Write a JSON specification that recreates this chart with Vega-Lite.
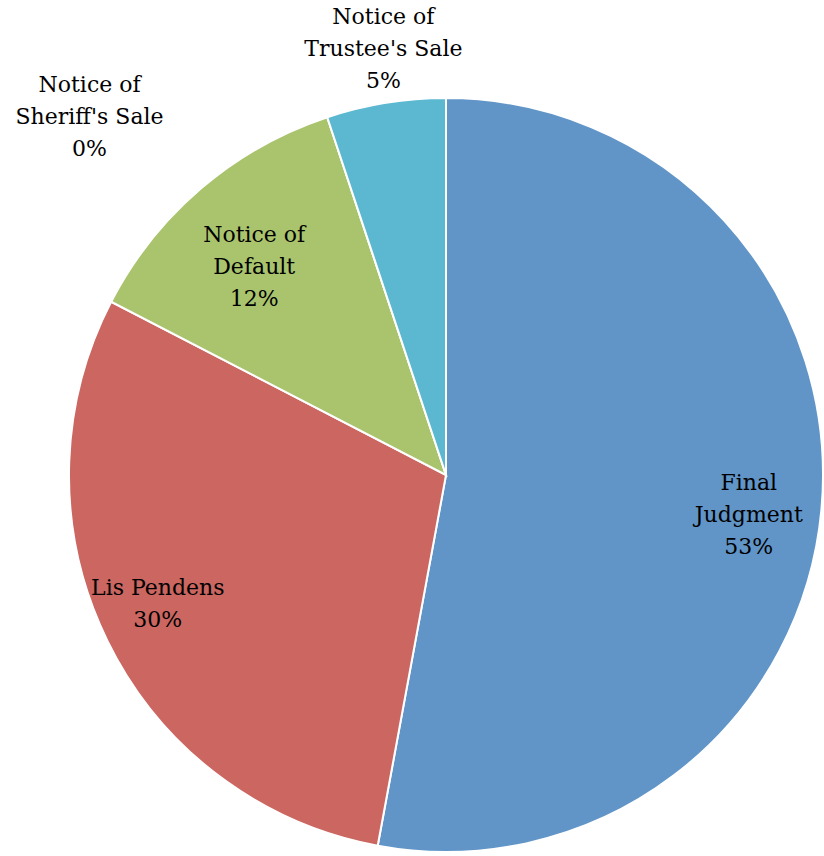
{
  "$schema": "https://vega.github.io/schema/vega-lite/v6.json",
  "width": 756,
  "height": 756,
  "autosize": "none",
  "padding": {"left": 68, "top": 97, "right": 0, "bottom": 3},
  "background": "white",
  "config": {"view": {"stroke": null}},
  "data": {
    "values": [
      {"cat": "Final Judgment", "value": 52.9, "label": "Final\nJudgment\n53%"},
      {"cat": "Lis Pendens", "value": 29.7, "label": "Lis Pendens\n30%"},
      {"cat": "Notice of Default", "value": 12.3, "label": "Notice of\nDefault\n12%"},
      {"cat": "Notice of Sheriff's Sale", "value": 0, "label": "Notice of\nSheriff's Sale\n0%"},
      {"cat": "Notice of Trustee's Sale", "value": 5.1, "label": "Notice of\nTrustee's Sale\n5%"}
    ]
  },
  "encoding": {
    "theta": {"field": "value", "type": "quantitative", "stack": true},
    "detail": {"field": "cat", "type": "nominal"}
  },
  "layer": [
    {
      "mark": {"type": "arc", "outerRadius": 377, "stroke": "white", "strokeWidth": 2},
      "encoding": {
        "color": {
          "field": "cat",
          "type": "nominal",
          "legend": null,
          "scale": {
            "domain": ["Final Judgment", "Lis Pendens", "Notice of Default", "Notice of Sheriff's Sale", "Notice of Trustee's Sale"],
            "range": ["#6195C8", "#CB6660", "#A9C46D", "#8B74B0", "#5BB8D0"]
          }
        }
      }
    },
    {
      "mark": {"type": "text", "radius": 304, "dy": -20, "font": "DejaVu Serif", "fontSize": 22, "lineHeight": 32, "lineBreak": "\n", "fill": "#000000", "align": "center", "baseline": "middle"},
      "encoding": {"text": {"condition": {"test": "datum.cat === 'Final Judgment'", "field": "label"}, "value": ""}}
    },
    {
      "mark": {"type": "text", "radius": 312, "dx": -8, "dy": -24, "font": "DejaVu Serif", "fontSize": 22, "lineHeight": 32, "lineBreak": "\n", "fill": "#000000", "align": "center", "baseline": "middle"},
      "encoding": {"text": {"condition": {"test": "datum.cat === 'Lis Pendens'", "field": "label"}, "value": ""}}
    },
    {
      "mark": {"type": "text", "radius": 283, "dx": -8, "dy": -25, "font": "DejaVu Serif", "fontSize": 22, "lineHeight": 32, "lineBreak": "\n", "fill": "#000000", "align": "center", "baseline": "middle"},
      "encoding": {"text": {"condition": {"test": "datum.cat === 'Notice of Default'", "field": "label"}, "value": ""}}
    },
    {
      "mark": {"type": "text", "radius": 430, "dx": -221, "dy": 18, "font": "DejaVu Serif", "fontSize": 22, "lineHeight": 32, "lineBreak": "\n", "fill": "#000000", "align": "center", "baseline": "middle"},
      "encoding": {"text": {"condition": {"test": "datum.cat === \"Notice of Sheriff's Sale\"", "field": "label"}, "value": ""}}
    },
    {
      "mark": {"type": "text", "radius": 430, "dx": 6, "dy": -34, "font": "DejaVu Serif", "fontSize": 22, "lineHeight": 32, "lineBreak": "\n", "fill": "#000000", "align": "center", "baseline": "middle"},
      "encoding": {"text": {"condition": {"test": "datum.cat === \"Notice of Trustee's Sale\"", "field": "label"}, "value": ""}}
    }
  ]
}
